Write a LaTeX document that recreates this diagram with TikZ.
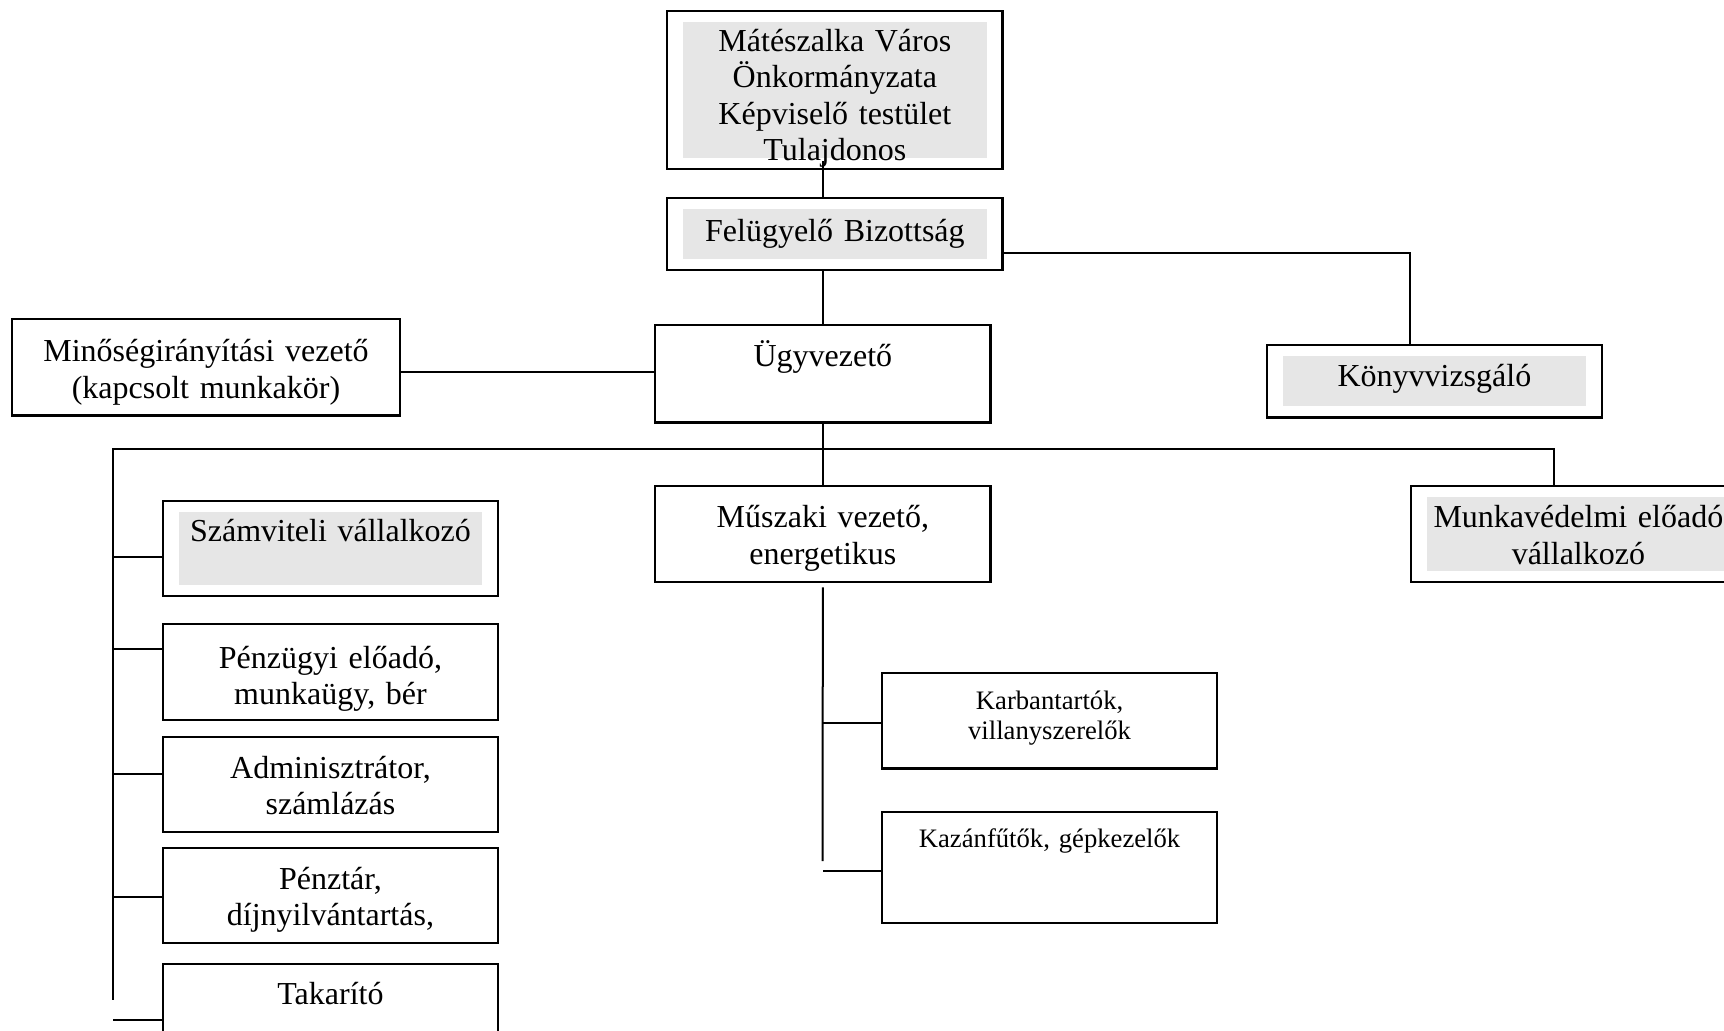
\documentclass[tikz,border=0pt]{standalone}
\usepackage{fontspec}
\setmainfont{Liberation Serif}
\usepackage{tikz}
\usepackage{xcolor}
\usetikzlibrary{positioning, calc}

\definecolor{boxgray}{HTML}{E6E6E6}

\begin{document}
\begin{tikzpicture}[
  x=0.375pt, y=-0.375pt,
    every node/.style={font=\fontsize{12}{13.7}\selectfont},
    job/.style={rectangle, draw=black, line width=0.85pt, inner sep=0pt, anchor=north west, align=center, text width=125.8pt, text height=15.5pt, text depth=#1},
    job/.default=20.5pt,
    greyed/.style={path picture={\fill[boxgray] ([shift={(16,11)}]path picture bounding box.north west) rectangle ([shift={(-16,-11)}]path picture bounding box.south east);}},
    small/.style={font=\fontsize{10}{11.1}\selectfont},
    link/.style={line width=0.75pt}
]
\useasboundingbox (0,0) rectangle (1724,1030);
\clip (0,0) rectangle (1724,1030);

% Owner and supervision
\node (owner) [job=44.25pt, greyed, text height=15pt] at (666,10) {Mátészalka Város\\Önkormányzata\\Képviselő testület\\Tulajdonos};
\node (board) [job=10.5pt, greyed, text height=16.5pt] at (666,196.5) {Felügyelő Bizottság};
\node (auditor) [job=11.6pt, greyed] at (1265.5,344) {Könyvvizsgáló};

% Management
\node (ceo) [job=21pt] at (654,324) {Ügyvezető};
\node (quality) [job=20.25pt, text width=145.4pt, text height=16.1pt] at (11,317.5) {Minőségirányítási vezető\\(kapcsolt munkakör)};
\node (tech) [job] at (654,485) {Műszaki vezető,\\energetikus};
\node (safety) [job, greyed] at (1409.5,485) {Munkavédelmi előadó\\vállalkozó};

% Office staff
\node (accounting) [job=20.6pt, greyed, text height=15pt] at (161.6,500) {Számviteli vállalkozó};
\node (finance) [job=19.35pt, text height=16.6pt] at (161.6,623) {Pénzügyi előadó,\\munkaügy, bér};
\node (admin) [job=20.1pt] at (161.6,735.6) {Adminisztrátor,\\számlázás};
\node (cashier) [job=20.1pt] at (161.6,846.6) {Pénztár,\\díjnyilvántartás,};
\node (cleaner) [job=20.3pt, text height=15.3pt] at (161.6,963) {Takarító};

% Technical staff
\node (maint) [job=22.2pt, small, text height=13.6pt] at (880.7,672) {Karbantartók,\\villanyszerelők};
\node (boiler) [job=28.5pt, small, text height=13.1pt] at (880.7,811) {Kazánfűtők, gépkezelők};

\coordinate (bus) at (822.5,448.6);
\coordinate (leftrail) at (113,1000);
\coordinate (lowrail) at (822.5,861);

% Connectors - top
\draw [link] ($(owner.south -| ceo.north)+(0,-9)$) -- (board.north -| ceo.north);
\draw [link] (board.south -| ceo.north) -- (ceo.north);
\draw [link] ($(board.east)+(0,19.5)$) -| ($(auditor.north)+(-24,0)$);
\draw [link] ($(quality.east)+(0,4.5)$) -- ($(quality.east -| ceo.west)+(0,4.5)$);

% Connectors - staff
\draw [link] (ceo.south) -- (tech.north);
\draw [link] ($(safety.north)+(-24.5,0)$) |- (bus) -| (leftrail);
\draw [link] ($(accounting.west)+(0,8.5)$) -- ($(accounting.west -| leftrail)+(0,8.5)$);
\draw [link] ($(finance.west)+(0,-23.4)$) -- ($(finance.west -| leftrail)+(0,-23.4)$);
\draw [link] ($(admin.west)+(0,-10.3)$) -- ($(admin.west -| leftrail)+(0,-10.3)$);
\draw [link] ($(cashier.west)+(0,1.7)$) -- ($(cashier.west -| leftrail)+(0,1.7)$);
\draw [link] ($(cleaner.west)+(0,8.5)$) -- ($(cleaner.west -| leftrail)+(0,8.5)$);
\draw [link] ($(tech.south)+(0,4)$) -- (lowrail);
\draw [link] ($(maint.west)+(0,2.25)$) -- ($(maint.west -| lowrail)+(0,2.25)$);
\draw [link] ($(boiler.west)+(0,3.5)$) -- ($(boiler.west -| lowrail)+(0,3.5)$);

\end{tikzpicture}
\end{document}
